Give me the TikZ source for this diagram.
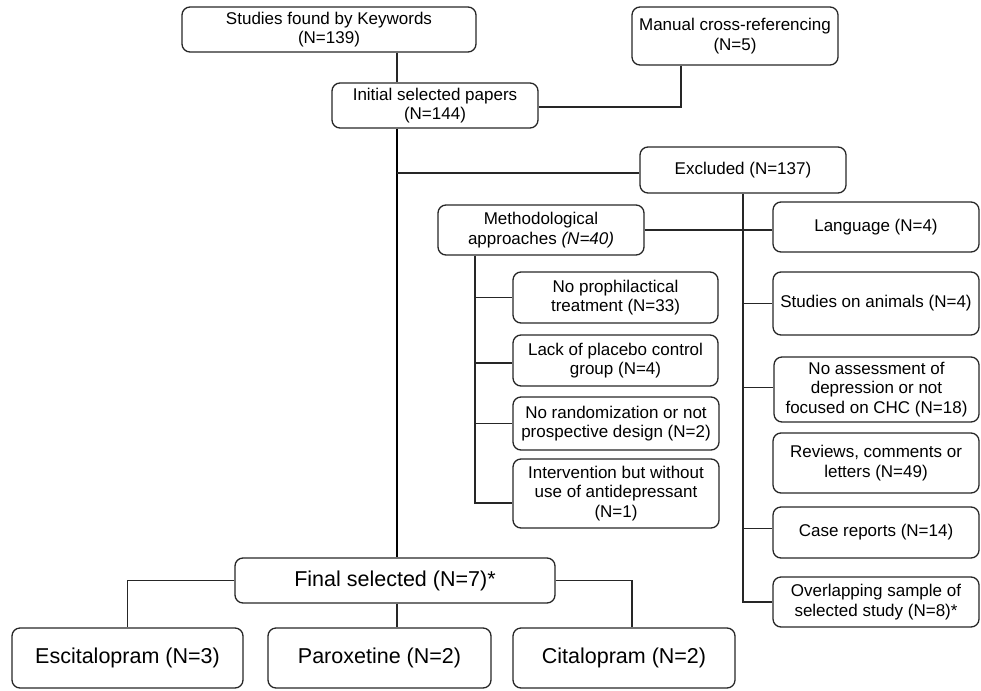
\documentclass[tikz,border=0pt]{standalone}
\usepackage{fontspec}
\setmainfont{Liberation Sans}
\begin{document}
\begin{tikzpicture}[x=1pt,y=-1pt,
  box/.style={draw=black!85,line width=1.3pt,rounded corners=8pt,align=center,inner sep=1pt,
    font=\fontsize{17pt}{19.5pt}\selectfont},
  bigbox/.style={box,font=\fontsize{21.5pt}{24pt}\selectfont},
  link/.style={draw=black!85,line width=1.1pt},
  trunk/.style={draw=black,line width=2.4pt}]
\useasboundingbox (0,0) rectangle (981,690);
% top
\node[box,minimum width=294pt,minimum height=45pt] (kw) at (329,29.5) {Studies found by Keywords\\(N=139)};
\node[box,minimum width=206pt,minimum height=58pt] (man) at (735,36) {Manual cross-referencing\\(N=5)};
\node[box,minimum width=206pt,minimum height=45pt] (init) at (435,105.5) {Initial selected papers\\(N=144)};
\node[box,minimum width=206pt,minimum height=46pt] (excl) at (743,170) {Excluded (N=137)};
% methodological
\node[box,minimum width=206pt,minimum height=50pt] (meth) at (541,230) {Methodological\\approaches \textit{(N=40)}};
\node[box,minimum width=205pt,minimum height=51pt] (proph) at (615.5,297.5) {No prophilactical\\treatment (N=33)};
\node[box,minimum width=205pt,minimum height=51pt] (plac) at (615.5,360.5) {Lack of placebo control\\group (N=4)};
\node[box,minimum width=206pt,minimum height=53pt] (rand) at (616,423.5) {No randomization or not\\prospective design (N=2)};
\node[box,minimum width=206pt,minimum height=69pt] (interv) at (616,493.5) {Intervention but without\\use of antidepressant\\(N=1)};
% right column
\node[box,minimum width=206pt,minimum height=50pt] (lang) at (876,227) {Language (N=4)};
\node[box,minimum width=206pt,minimum height=63pt] (anim) at (876,303.5) {Studies on animals (N=4)};
\node[box,minimum width=205pt,minimum height=65pt] (noas) at (876.5,389.5) {No assessment of\\depression or not\\focused on CHC (N=18)};
\node[box,minimum width=206pt,minimum height=60pt] (rev) at (876,463) {Reviews, comments or\\letters (N=49)};
\node[box,minimum width=206pt,minimum height=51pt] (case) at (876,532.5) {Case reports (N=14)};
\node[box,minimum width=206pt,minimum height=50pt] (over) at (876,602) {Overlapping sample of\\selected study (N=8)*};
% bottom
\node[bigbox,minimum width=320pt,minimum height=45pt] (final) at (395,580.5) {Final selected (N=7)*};
\node[bigbox,minimum width=231pt,minimum height=60pt] (esc) at (127.5,658) {Escitalopram (N=3)};
\node[bigbox,minimum width=223pt,minimum height=60pt] (par) at (379.5,658) {Paroxetine (N=2)};
\node[bigbox,minimum width=222pt,minimum height=60pt] (cit) at (624,658) {Citalopram (N=2)};
% helper coordinates
\coordinate (v) at (397,0);
\coordinate (mx) at (681,0);
\coordinate (ev) at (743,0);
\coordinate (mv) at (475,0);
\coordinate (cx) at (632,0);
% connectors
\draw[link] (kw.south -| v) -- (init.north -| v);
\draw[link] (man.south -| mx) |- ([yshift=-1.5pt]init.east);
\draw[trunk] (init.south -| v) -- (final.north -| v);
\draw[link] ([yshift=-3pt]excl.west -| v) -- ([yshift=-3pt]excl.west);
\draw[link] (excl.south -| ev) |- (over.west);
\draw[link] (meth.east) -- (meth.east -| lang.west);
\draw[link] (ev |- anim.west) -- (anim.west);
\draw[link] ([yshift=2pt]noas.west -| ev) -- ([yshift=2pt]noas.west);
\draw[link] ([yshift=4pt]case.west -| ev) -- ([yshift=4pt]case.west);
\draw[link] (meth.south -| mv) |- ([yshift=-9.5pt]interv.west);
\draw[link] (mv |- proph.west) -- (proph.west);
\draw[link] ([yshift=-2.5pt]plac.west -| mv) -- ([yshift=-2.5pt]plac.west);
\draw[link] (mv |- rand.west) -- (rand.west);
\draw[link] (final.west) -| (esc.north);
\draw[link] (final.south -| v) -- (par.north -| v);
\draw[link] (final.east) -| (cx |- cit.north);
\end{tikzpicture}
\end{document}
